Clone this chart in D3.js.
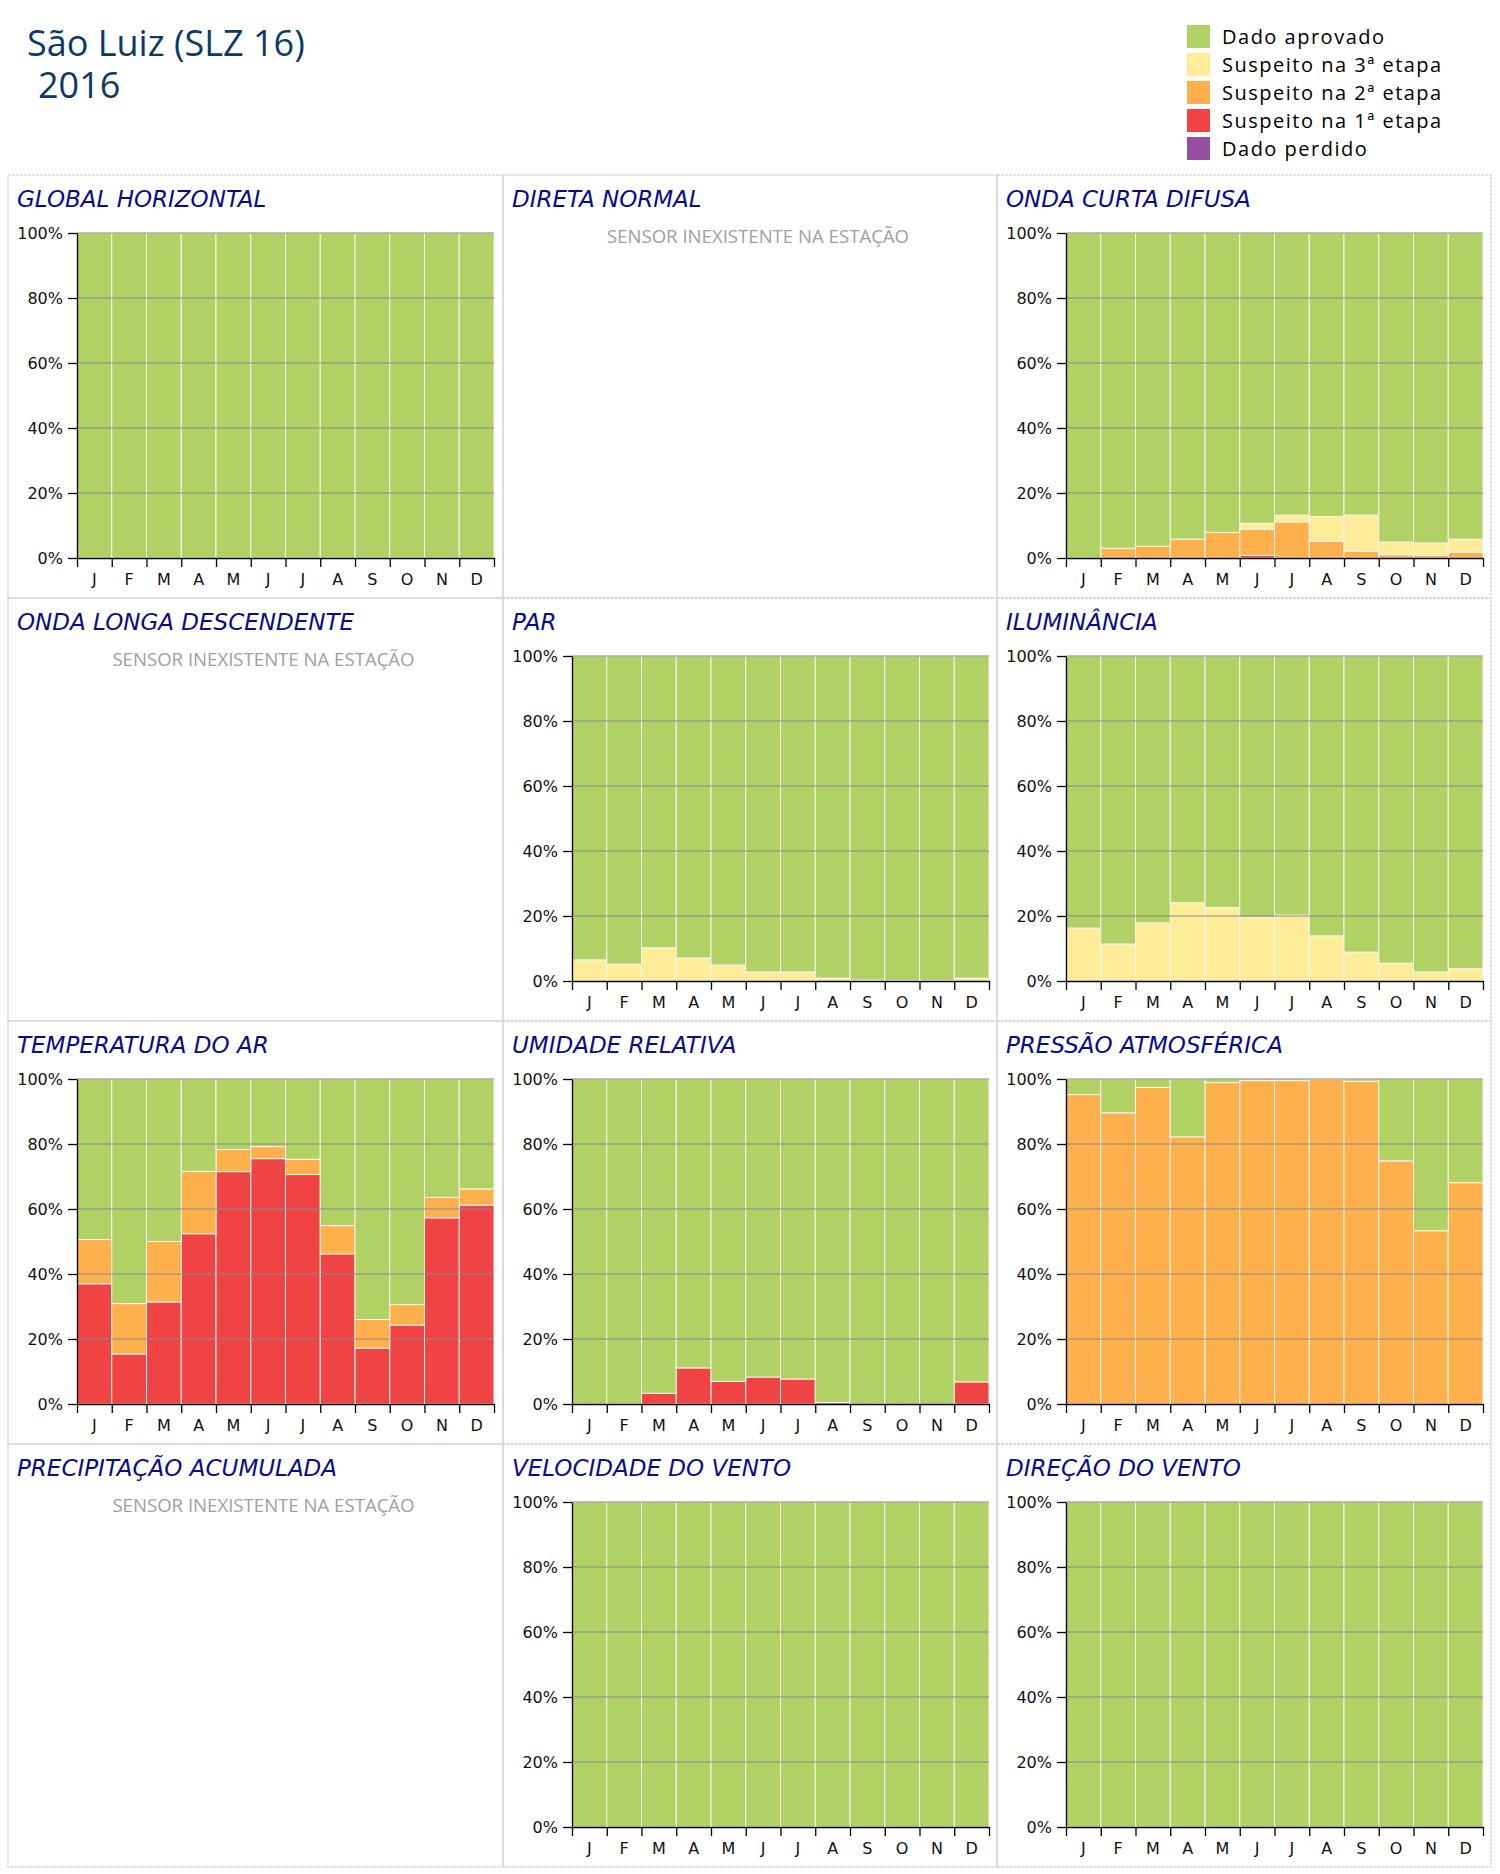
<!DOCTYPE html>
<html><head><meta charset="utf-8">
<script src="https://cdn.jsdelivr.net/npm/d3@7"></script>
<style>
html,body{margin:0;padding:0;background:#fff;}
</style>
</head><body>
<svg id="chart" width="1500" height="1874"></svg>
<script>
// ---------- DATA ----------
const stationTitle = "São Luiz (SLZ 16)";
const yearLabel = "2016";
const months = ["J","F","M","A","M","J","J","A","S","O","N","D"];
const yTicks = [0,20,40,60,80,100];
const legendLabels = ["Dado aprovado","Suspeito na 3ª etapa","Suspeito na 2ª etapa","Suspeito na 1ª etapa","Dado perdido"];
const seriesKeys = ["aprovado","s3","s2","s1","perdido"];
const missingText = "SENSOR INEXISTENTE NA ESTAÇÃO";

const panelTitles = ["GLOBAL HORIZONTAL","DIRETA NORMAL","ONDA CURTA DIFUSA",
  "ONDA LONGA DESCENDENTE","PAR","ILUMINÂNCIA",
  "TEMPERATURA DO AR","UMIDADE RELATIVA","PRESSÃO ATMOSFÉRICA",
  "PRECIPITAÇÃO ACUMULADA","VELOCIDADE DO VENTO","DIREÇÃO DO VENTO"];

const zeros = [0,0,0,0,0,0,0,0,0,0,0,0];
const full  = [100,100,100,100,100,100,100,100,100,100,100,100];

// Global horizontal
const global_aprovado = full;
// Onda curta difusa
const difusa_aprovado = [100,97.0,96.4,94.2,92.1,89.3,86.8,87.2,86.8,95.1,95.4,94.2];
const difusa_s3 = [0,0,0,0,0,1.8,2.1,7.6,11.2,3.9,3.8,4.1];
const difusa_s2 = [0,3.0,3.6,5.8,7.9,8.1,11.1,5.2,2.0,1.0,0.8,1.7];
const difusa_s1 = [0,0,0,0,0,0.8,0,0,0,0,0,0];
// PAR
const par_aprovado = [93.5,94.8,89.8,92.9,95.1,97.2,97.2,99.1,99.7,99.8,99.8,99.1];
const par_s3 = [6.5,5.2,10.2,7.1,4.9,2.8,2.8,0.9,0.3,0.2,0.2,0.9];
// Iluminância
const ilum_aprovado = [83.7,88.6,82.1,75.9,77.4,80.5,79.7,86.1,91.1,94.5,97.2,96.2];
const ilum_s3 = [16.3,11.1,17.9,24.1,22.6,19.5,20.3,13.9,8.9,5.5,2.8,3.8];
const ilum_s1 = [0,0.3,0,0,0,0,0,0,0,0,0,0];
// Temperatura do ar
const temp_aprovado = [49.4,69.1,50.0,28.4,21.7,20.8,24.7,45.1,74.0,69.4,36.4,33.8];
const temp_s2 = [13.6,15.5,18.6,19.2,6.8,3.7,4.7,8.7,8.8,6.3,6.3,5.0];
const temp_s1 = [37.0,15.4,31.4,52.4,71.5,75.5,70.6,46.2,17.2,24.3,57.3,61.2];
// Umidade relativa
const umid_aprovado = [100,100,96.7,88.9,93.0,91.7,92.3,99.5,100,100,100,93.2];
const umid_s1 = [0,0,3.3,11.1,7.0,8.3,7.7,0.5,0,0,0,6.8];
// Pressão atmosférica
const press_aprovado = [4.8,10.4,2.6,17.8,1.1,0.5,0.5,0.1,0.7,25.2,46.7,31.9];
const press_s2 = [95.2,89.6,97.4,82.2,98.9,99.5,99.5,99.9,99.3,74.8,53.3,68.1];
// Vento
const velvento_aprovado = full;
const dirvento_aprovado = full;

// panel data (null = sensor inexistente)
const panelData = [
  {aprovado:global_aprovado, s3:zeros, s2:zeros, s1:zeros, perdido:zeros},
  null,
  {aprovado:difusa_aprovado, s3:difusa_s3, s2:difusa_s2, s1:difusa_s1, perdido:zeros},
  null,
  {aprovado:par_aprovado, s3:par_s3, s2:zeros, s1:zeros, perdido:zeros},
  {aprovado:ilum_aprovado, s3:ilum_s3, s2:zeros, s1:ilum_s1, perdido:zeros},
  {aprovado:temp_aprovado, s3:zeros, s2:temp_s2, s1:temp_s1, perdido:zeros},
  {aprovado:umid_aprovado, s3:zeros, s2:zeros, s1:umid_s1, perdido:zeros},
  {aprovado:press_aprovado, s3:zeros, s2:press_s2, s1:zeros, perdido:zeros},
  null,
  {aprovado:velvento_aprovado, s3:zeros, s2:zeros, s1:zeros, perdido:zeros},
  {aprovado:dirvento_aprovado, s3:zeros, s2:zeros, s1:zeros, perdido:zeros}
];

// ---------- STYLE ----------
const colorMap = {aprovado:"#b2d165", s3:"#feec99", s2:"#feb04c", s1:"#f04344", perdido:"#984ea3"};
const stackOrder = ["perdido","s1","s2","s3","aprovado"]; // bottom -> top

const svg = d3.select("#chart");

// Header (two lines in one text element)
const head = svg.append("text")
  .style("font-family","'Open Sans'").style("font-size","36px").style("fill","#0b3a6a");
head.append("tspan").attr("x",27).attr("y",56).text(stationTitle);
head.append("tspan").attr("x",38).attr("y",98).text(yearLabel);

// Legend
const leg = svg.append("g").attr("transform","translate(1187,25)");
legendLabels.forEach((lab,i)=>{
  const g = leg.append("g").attr("transform",`translate(0,${i*28})`);
  g.append("rect").attr("width",23).attr("height",23).attr("fill",colorMap[seriesKeys[i]]);
  g.append("text").attr("x",35).attr("y",19)
    .style("font-family","'Open Sans'").style("font-size","20px")
    .style("letter-spacing","1.5px").style("fill","#000").text(lab);
});

// Panels layout
const colX = [8,503,997];
const colW = [495,494,494];
const rowY0 = 175, rowH = 423;
const plotW = 417, plotH = 325;

panelTitles.forEach((title,idx)=>{
  const c = idx%3, r = Math.floor(idx/3);
  const px = colX[c], py = rowY0 + r*rowH;
  const g = svg.append("g").attr("transform",`translate(${px},${py})`);
  g.append("rect").attr("x",0).attr("y",0).attr("width",colW[c]).attr("height",rowH)
    .attr("fill","none").attr("stroke","#d6d6d6").attr("stroke-width",1.5).attr("stroke-dasharray","3,1");
  g.append("text").attr("x",9).attr("y",32)
    .style("font-family","'DejaVu Sans'").style("font-style","oblique").style("font-size","23px")
    .style("fill","#0a0a8c").text(title);

  const data = panelData[idx];
  if(!data){
    g.append("text").attr("x",colW[c]/2+8).attr("y",68).attr("text-anchor","middle")
      .style("font-family","'Open Sans'").style("font-size","18.6px").style("fill","#a0a0a0")
      .text(missingText);
    return;
  }
  const pg = g.append("g").attr("transform","translate(69,58)");
  const xBand = d3.scaleBand().domain(d3.range(12)).range([0,plotW]).paddingInner(0).paddingOuter(0);
  const xLin = d3.scaleLinear().domain([0,12]).range([0,plotW]);
  const y = d3.scaleLinear().domain([0,100]).range([plotH,0]);

  const rows = months.map((m,i)=>{
    const o = {i:i};
    stackOrder.forEach(k=>o[k]=data[k][i]);
    return o;
  });
  const stacked = d3.stack().keys(stackOrder)(rows);
  stacked.forEach(layer=>{
    pg.append("g").selectAll("rect").data(layer.filter(d=>d[1]-d[0]>0)).join("rect")
      .attr("x",d=>xBand(d.data.i))
      .attr("width",xBand.bandwidth())
      .attr("y",d=>y(d[1]))
      .attr("height",d=>y(d[0])-y(d[1]))
      .attr("fill",colorMap[layer.key])
      .attr("stroke","#f5f5ee").attr("stroke-width",1);
  });

  // gridlines on top
  pg.append("g").selectAll("line").data(yTicks.filter(t=>t>0)).join("line")
    .attr("x1",0).attr("x2",plotW).attr("y1",d=>y(d)).attr("y2",d=>y(d))
    .attr("stroke","#8a8a8a").attr("stroke-width",1.2);

  // y axis
  const ya = pg.append("g").call(d3.axisLeft(y).tickValues(yTicks).tickFormat(d=>d+"%")
    .tickSize(9).tickSizeOuter(0).tickPadding(5));
  ya.selectAll("text").style("font-family","'DejaVu Sans'").style("font-size","16px").style("fill","#111");
  ya.selectAll("line,path").attr("stroke","#000").attr("stroke-width",1.3);

  // x axis ticks at month boundaries
  const xa = pg.append("g").attr("transform",`translate(0,${plotH})`)
    .call(d3.axisBottom(xLin).tickValues(d3.range(13)).tickFormat("").tickSize(9).tickSizeOuter(0));
  xa.selectAll("line,path").attr("stroke","#000").attr("stroke-width",1.3);
  // month labels
  const xl = pg.append("g").attr("transform",`translate(0,${plotH})`)
    .call(d3.axisBottom(xBand).tickFormat(i=>months[i]).tickSize(0).tickPadding(15.5));
  xl.select(".domain").remove();
  xl.selectAll("text").style("font-family","'DejaVu Sans'").style("font-size","16px").style("fill","#111");
});
</script>
</body></html>
